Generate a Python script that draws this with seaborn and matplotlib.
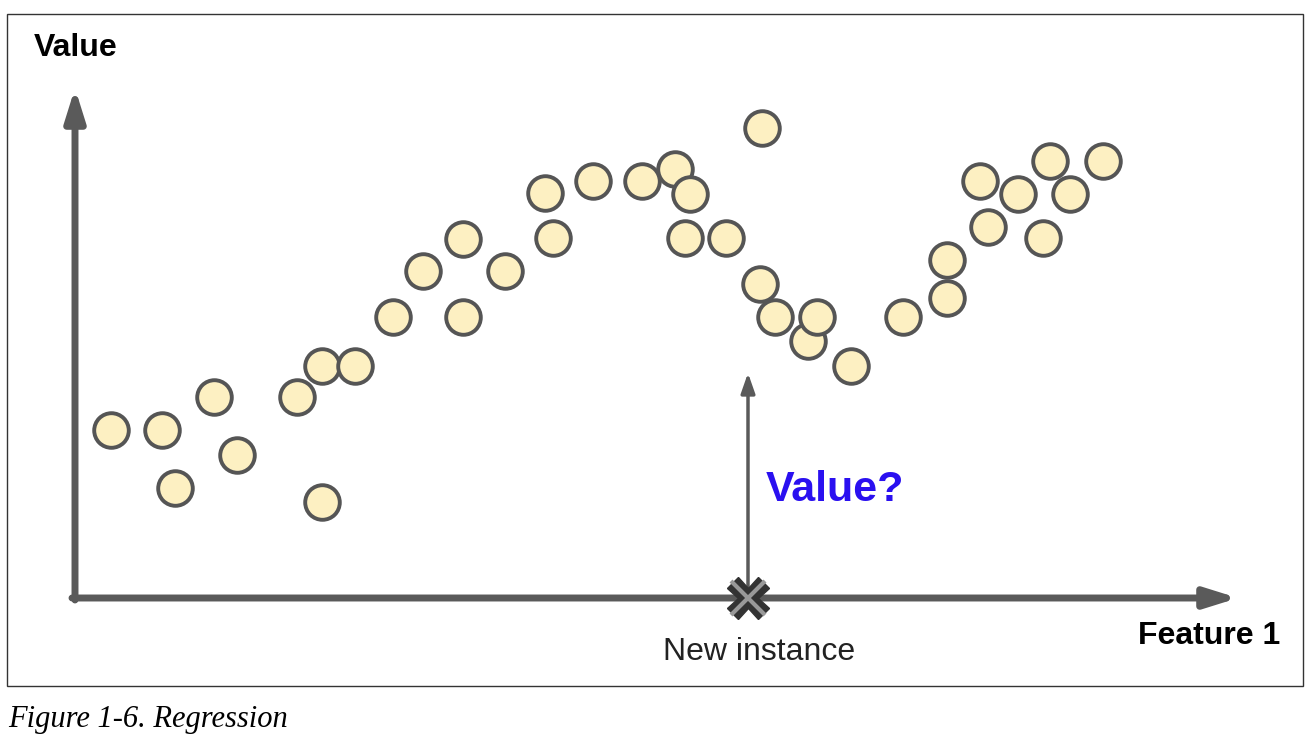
import matplotlib
matplotlib.use("Agg")
import matplotlib.pyplot as plt
import seaborn as sns
import pandas as pd

feature = [111,162,175,214,237,297,322,322,355,393,423,463,463,505,545,553,593,642,675,690,685,726,762,760,775,808,817,851,903,947,947,980,988,1018,1043,1050,1070,1103]
value = [430,430,488,397,455,397,366,502,366,317,271,239,317,271,193,238,181,181,169,194,238,238,128,284,317,341,317,366,317,298,260,181,227,194,238,161,194,161]
new_x = 748

sns.set_theme(style="white")
fig = plt.figure(figsize=(13.16, 7.54), dpi=100)
ax = fig.add_axes([0, 0, 1, 1])
ax.set_xlim(0, 1316); ax.set_ylim(754, 0); ax.axis("off")

ax.add_patch(plt.Rectangle((7, 14), 1296, 672, fill=False, ec="#333333", lw=1))
gray = "#5a5a5a"
ax.annotate("", xy=(75, 88), xytext=(75, 600),
            arrowprops=dict(arrowstyle="-|>,head_width=0.5,head_length=1.6", color=gray, lw=5, shrinkA=0, shrinkB=0))
ax.annotate("", xy=(1238, 598), xytext=(72, 598),
            arrowprops=dict(arrowstyle="-|>,head_width=0.5,head_length=1.6", color=gray, lw=5, shrinkA=0, shrinkB=0))
ax.annotate("", xy=(new_x, 373), xytext=(new_x, 598),
            arrowprops=dict(arrowstyle="-|>,head_width=0.35,head_length=1.0", color=gray, lw=2.5, shrinkA=0, shrinkB=0))

sns.scatterplot(data=pd.DataFrame({"x": feature, "y": value}), x="x", y="y", ax=ax,
                s=620, color="#fdf0c2", edgecolor="#555555", linewidth=2.8, zorder=3, legend=False)
ax.set_xlim(0, 1316); ax.set_ylim(754, 0)
ax.plot([new_x], [598], marker="X", markersize=30, color="#333333", mec="#333333", zorder=4)
ax.plot([new_x], [598], marker="x", markersize=24, color="#999999", mew=3, zorder=5)

ax.text(34, 48, "Value", fontsize=23, fontweight="bold", ha="left", va="center", color="black", family="Liberation Sans")
ax.text(1280, 636, "Feature 1", fontsize=23, fontweight="bold", ha="right", va="center", color="black", family="Liberation Sans")
ax.text(new_x + 11, 652, "New instance", fontsize=23, ha="center", va="center", color="#222222", family="Liberation Sans")
ax.text(766, 490, "Value?", fontsize=31, fontweight="bold", ha="left", va="center", color="#2a10f0", family="Liberation Sans")
ax.text(8, 720, "Figure 1-6. Regression", fontsize=22, style="italic", ha="left", va="center",
        family="Liberation Serif", color="black")
fig.savefig("out.png", dpi=100)
